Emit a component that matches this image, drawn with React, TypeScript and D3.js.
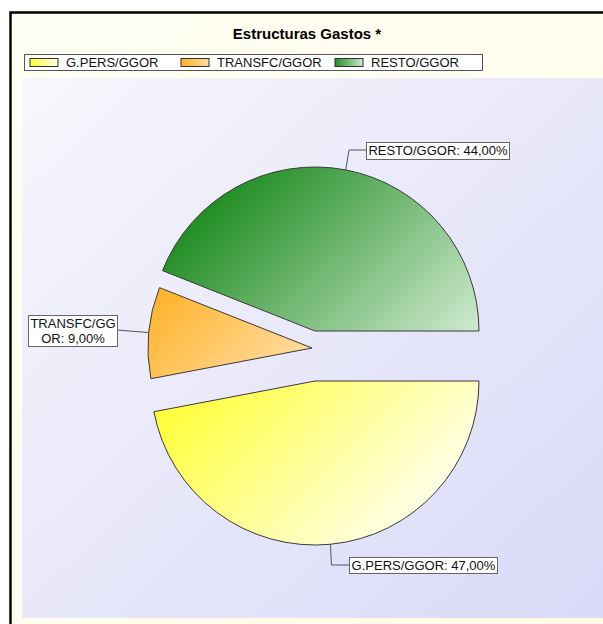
import React from "react";
import * as d3 from "d3";

const categories = ["G.PERS/GGOR", "TRANSFC/GGOR", "RESTO/GGOR"];
const values = [47, 9, 44];
const labelTexts = [["G.PERS/GGOR: 47,00%"], ["TRANSFC/GG", "OR: 9,00%"], ["RESTO/GGOR: 44,00%"]];
const title = "Estructuras Gastos *";

const W = 603, H = 624;
const CX = 315, CY = 356, R = 164;
// per-slice explode offsets
const offsets: [number, number][] = [[0, 25], [-3, -8], [0, -25]];
const gradStops: [string, string][] = [
  ["#ffff36", "#ffffe6"],
  ["#ffb22a", "#ffdc9e"],
  ["#228e24", "#cfeacf"],
];
const legendX = [30, 181, 335];
const labelBoxes = [
  { x: 349, y: 557, w: 148, h: 16, elbow: (p: number[]) => [[p[0] + 1, 565], [349, 565]] },
  { x: 28, y: 315, w: 89, h: 31, elbow: (p: number[]) => [[117, 330]] },
  { x: 366, y: 142, w: 143, h: 17, elbow: (p: number[]) => [[349, 150], [366, 150]] },
];
const FONT = "'Liberation Sans', Arial, sans-serif";

export default function App() {
  const pie = d3.pie<number>().sort(null).startAngle(Math.PI / 2).endAngle(Math.PI / 2 + 2 * Math.PI);
  const arcs = pie(values);
  const arcGen = d3.arc<d3.PieArcDatum<number>>().innerRadius(0).outerRadius(R);
  // diagonal (45°) gradient extent per slice, in the slice's local coordinates
  const gradExt = arcs.map((a) => {
    const pts: number[][] = [[0, 0]];
    for (let k = 0; k <= 60; k++) {
      const t = a.startAngle + ((a.endAngle - a.startAngle) * k) / 60;
      pts.push([R * Math.sin(t), -R * Math.cos(t)]);
    }
    const s = pts.map((p) => p[0] + p[1]);
    return [d3.min(s)! / 2, d3.max(s)! / 2];
  });
  return (
    <svg width={W} height={H} style={{ position: "absolute", left: 0, top: 0 }}>
      <defs>
        <linearGradient id="bgOuter" x1="0" y1="0" x2="1" y2="1">
          <stop offset="0" stopColor="#fffff4" />
          <stop offset="1" stopColor="#fffbe6" />
        </linearGradient>
        <linearGradient id="bgPlot" x1="0" y1="0" x2="1" y2="1">
          <stop offset="0" stopColor="#f7f7fc" />
          <stop offset="1" stopColor="#d9d9f8" />
        </linearGradient>
        {gradStops.map((g, i) => (
          <linearGradient key={i} id={`g${i}`} gradientUnits="userSpaceOnUse"
            x1={gradExt[i][0]} y1={gradExt[i][0]} x2={gradExt[i][1]} y2={gradExt[i][1]}>
            <stop offset="0" stopColor={g[0]} />
            <stop offset="1" stopColor={g[1]} />
          </linearGradient>
        ))}
        {gradStops.map((g, i) => (
          <linearGradient key={"lg" + i} id={`lg${i}`} x1="0" y1="0" x2="1" y2="0">
            <stop offset="0" stopColor={g[0]} />
            <stop offset="1" stopColor={g[1]} />
          </linearGradient>
        ))}
      </defs>
      <rect x={0} y={0} width={W} height={H} fill="#ffffff" />
      <rect x={10.5} y={12.5} width={W} height={H} fill="url(#bgOuter)" stroke="#000" strokeWidth={2.5} />
      <rect x={22} y={78} width={W - 22} height={540} fill="url(#bgPlot)" />
      <text x={307} y={39} textAnchor="middle" fontFamily={FONT} fontWeight="bold" fontSize={15} fill="#000">
        {title}
      </text>
      <rect x={24.5} y={54.5} width={458} height={16} fill="#fff" stroke="#555" />
      {categories.map((c, i) => (
        <g key={c}>
          <rect x={legendX[i]} y={58.5} width={28} height={8} fill={`url(#lg${i})`} stroke="#333" />
          <text x={legendX[i] + 36} y={67} fontFamily={FONT} fontSize={13} fill="#111">
            {c}
          </text>
        </g>
      ))}
      {arcs.map((a, i) => (
        <path
          key={i}
          d={arcGen(a) || ""}
          transform={`translate(${CX + offsets[i][0]},${CY + offsets[i][1]})`}
          fill={`url(#g${i})`}
          stroke="#3a3a3a"
          strokeWidth={1}
        />
      ))}
      {arcs.map((a, i) => {
        const mid = (a.startAngle + a.endAngle) / 2;
        const px = CX + offsets[i][0] + R * Math.sin(mid);
        const py = CY + offsets[i][1] - R * Math.cos(mid);
        const b = labelBoxes[i];
        const pts = [[px, py], ...b.elbow([px, py])];
        const line = d3.line()(pts as [number, number][]) || "";
        return (
          <g key={"l" + i}>
            <path d={line} fill="none" stroke="#555" strokeWidth={1} />
            <rect x={b.x + 0.5} y={b.y + 0.5} width={b.w} height={b.h} fill="#fff" stroke="#666" />
            {labelTexts[i].map((t, j) => (
              <text
                key={j}
                x={b.x + b.w / 2 + 0.5}
                y={b.y + 13 + j * 15}
                textAnchor="middle"
                fontFamily={FONT}
                fontSize={13}
                fill="#111"
              >
                {t}
              </text>
            ))}
          </g>
        );
      })}
    </svg>
  );
}
